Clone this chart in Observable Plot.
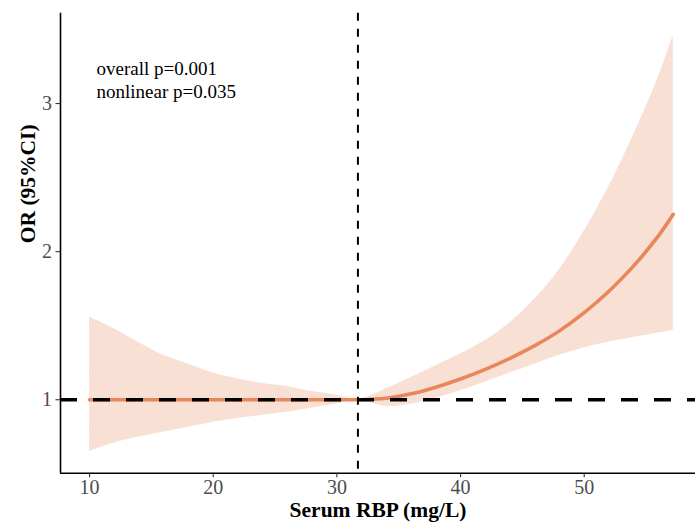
<!DOCTYPE html>
<html>
<head>
<meta charset="utf-8">
<script src="https://cdn.jsdelivr.net/npm/d3@7"></script>
<script src="https://cdn.jsdelivr.net/npm/@observablehq/plot@0.6"></script>
<style>
  html, body { margin: 0; padding: 0; background: #fff; }
  #chart svg { display: block; }
</style>
</head>
<body>
<div id="chart"></div>
<script>
// Serum RBP (mg/L)
const rbp     = [10, 12, 14, 16, 18, 20, 22, 24, 26, 28, 30, 31.7, 34, 36, 38, 40, 42, 44, 46, 48, 50, 52, 54, 56, 57.2];
// OR estimate
const orValue = [1, 1, 1, 1, 1, 1, 1, 1, 1, 1, 1, 1, 1.01, 1.04, 1.085, 1.14, 1.205, 1.28, 1.365, 1.465, 1.588, 1.733, 1.904, 2.106, 2.252];
// 95% CI
const ciLower = [0.651, 0.708, 0.748, 0.782, 0.815, 0.848, 0.874, 0.895, 0.915, 0.945, 0.972, 1, 0.955, 0.97, 1.01, 1.06, 1.12, 1.18, 1.24, 1.30, 1.35, 1.39, 1.42, 1.45, 1.468];
const ciUpper = [1.558, 1.478, 1.385, 1.30, 1.24, 1.18, 1.14, 1.11, 1.09, 1.055, 1.03, 1, 1.075, 1.15, 1.23, 1.31, 1.40, 1.52, 1.68, 1.88, 2.14, 2.44, 2.79, 3.18, 3.46];

const xTicks = [10, 20, 30, 40, 50];
const yTicks = [1, 2, 3];
const xDomain = [7.65, 59.0];
const yDomain = [0.504, 3.61];
const refX = [31.7];
const refY = [1];
const annotation = ["overall p=0.001", "nonlinear p=0.035"];
const xTitle = "Serum RBP (mg/L)";
const yTitle = "OR (95%CI)";

const rows = rbp.map((x, i) => ({x, or: orValue[i], lo: ciLower[i], hi: ciUpper[i]}));

const lineColor = "#E8875B";
const font = "'Liberation Serif', 'Times New Roman', serif";

const chart = Plot.plot({
  width: 695,
  height: 530,
  marginLeft: 60,
  marginRight: 0,
  marginTop: 12.7,
  marginBottom: 57.3,
  style: {fontFamily: font, background: "#fff"},
  x: {domain: xDomain, ticks: xTicks, label: null},
  y: {domain: yDomain, ticks: yTicks, label: null},
  marks: [
    Plot.areaY(rows, {x: "x", y1: "lo", y2: "hi", fill: lineColor, fillOpacity: 0.26, curve: "catmull-rom"}),
    Plot.lineY(rows, {x: "x", y: "or", stroke: lineColor, strokeWidth: 3.6, curve: "catmull-rom"}),
    Plot.ruleY(refY, {stroke: "#000", strokeWidth: 3.6, strokeDasharray: "17,16"}),
    Plot.ruleX(refX, {stroke: "#000", strokeWidth: 2, strokeDasharray: "8,8"}),
    Plot.ruleX([xDomain[0]], {stroke: "#000", strokeWidth: 1.6}),
    Plot.ruleY([yDomain[0]], {stroke: "#000", strokeWidth: 1.6}),
    Plot.axisX({ticks: xTicks, tickFormat: d3.format("d"), tickSize: 4.5, tickPadding: 2, fontSize: 20, color: "#4d4d4d", stroke: "#333", strokeWidth: 1.1, label: null}),
    Plot.axisY({ticks: yTicks, tickFormat: d3.format("d"), tickSize: 4.5, tickPadding: 4, fontSize: 20, color: "#4d4d4d", stroke: "#333", strokeWidth: 1.1, label: null}),
    Plot.text([annotation.join("\n")], {frameAnchor: "top-left", dx: 36, dy: 45, lineAnchor: "top", textAnchor: "start", fontSize: 19, lineHeight: 1.21, fill: "#000"}),
    Plot.text([xTitle], {frameAnchor: "bottom", dy: 44, fontSize: 21.5, fontWeight: "bold", fill: "#000"}),
    Plot.text([yTitle], {frameAnchor: "left", dx: -32, rotate: -90, fontSize: 21.5, fontWeight: "bold", fill: "#000"})
  ]
});

document.getElementById("chart").appendChild(chart);
</script>
</body>
</html>
